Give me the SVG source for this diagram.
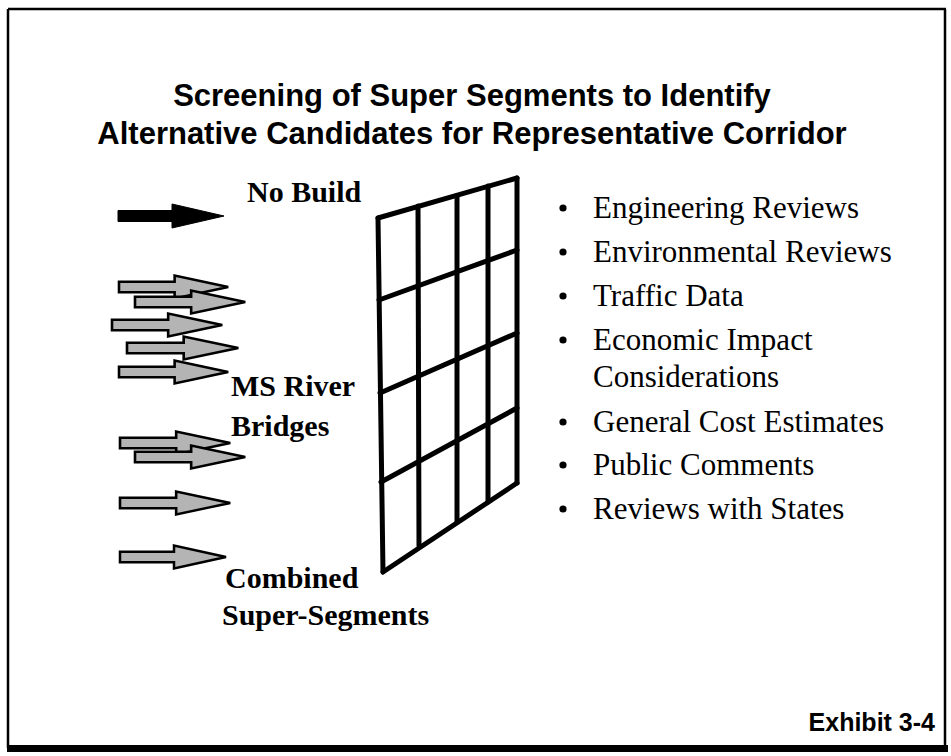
<svg xmlns="http://www.w3.org/2000/svg" width="951" height="756" viewBox="0 0 951 756">
  <style>
    .title { font-family: "Liberation Sans", Arial, sans-serif; font-weight: bold; font-size: 31px; fill: #000; }
    .label { font-family: "Liberation Serif", "Times New Roman", serif; font-weight: bold; font-size: 30px; fill: #000; }
    .item { font-family: "Liberation Serif", "Times New Roman", serif; font-size: 31px; fill: #000; }
    .exhibit { font-family: "Liberation Sans", Arial, sans-serif; font-weight: bold; font-size: 25px; fill: #000; }
    .grid line { stroke: #000; stroke-width: 5; stroke-linecap: round; }
    .arrow-gray { fill: #b4b4b4; stroke: #000; stroke-width: 2.5; stroke-linejoin: miter; }
    .arrow-black { fill: #000; stroke: #000; stroke-width: 1; }
  </style>
  <defs>
    <!-- block arrow, tail at x=0, centred on y=0, tip at x=106 -->
    <path id="blockArrow" d="M0,-5.5 H54 V-12 L106,0 L54,12 V5.5 H0 Z"/>
  </defs>

  <rect width="951" height="756" fill="#fff"/>

  <!-- frame -->
  <g id="frame" fill="none" stroke="#000">
    <line x1="8" y1="9" x2="946" y2="9" stroke-width="2.5"/>
    <line x1="8" y1="9" x2="8" y2="748" stroke-width="2.5"/>
    <line x1="945" y1="9" x2="945" y2="748" stroke-width="2.5"/>
    <rect x="7" y="745" width="941" height="7" fill="#000" stroke="none"/>
  </g>

  <!-- heading -->
  <g id="title">
    <text class="title" x="472" y="106" text-anchor="middle">Screening of Super Segments to Identify</text>
    <text class="title" x="472" y="144" text-anchor="middle">Alternative Candidates for Representative Corridor</text>
  </g>

  <!-- incoming alternatives -->
  <g id="arrows">
    <use href="#blockArrow" class="arrow-black" transform="translate(118,216)"/>
    <use href="#blockArrow" class="arrow-gray" transform="translate(119,287) scale(1.03,0.95)"/>
    <use href="#blockArrow" class="arrow-gray" transform="translate(135,302) scale(1.04,0.95)"/>
    <use href="#blockArrow" class="arrow-gray" transform="translate(112,325) scale(1.04,0.95)"/>
    <use href="#blockArrow" class="arrow-gray" transform="translate(127,348) scale(1.05,0.95)"/>
    <use href="#blockArrow" class="arrow-gray" transform="translate(119,372) scale(1.03,0.95)"/>
    <use href="#blockArrow" class="arrow-gray" transform="translate(120,443) scale(1.04,0.95)"/>
    <use href="#blockArrow" class="arrow-gray" transform="translate(135,457) scale(1.04,0.95)"/>
    <use href="#blockArrow" class="arrow-gray" transform="translate(120,503) scale(1.04,0.95)"/>
    <use href="#blockArrow" class="arrow-gray" transform="translate(120,557) scale(1.0,0.95)"/>
  </g>

  <!-- group labels -->
  <g id="labels">
    <text class="label" x="247" y="202">No Build</text>
    <text class="label" x="231" y="396">MS River</text>
    <text class="label" x="231" y="436">Bridges</text>
    <text class="label" x="225" y="588">Combined</text>
    <text class="label" x="222" y="625">Super-Segments</text>
  </g>

  <!-- screening grid in perspective -->
  <g id="screen" class="grid">
    <line x1="378" y1="218" x2="517" y2="178"/>
    <line x1="379" y1="300" x2="517" y2="250"/>
    <line x1="380" y1="393" x2="517" y2="333"/>
    <line x1="381" y1="482" x2="517" y2="408"/>
    <line x1="383" y1="572" x2="517" y2="483"/>
    <line x1="378" y1="218" x2="383" y2="572"/>
    <line x1="418" y1="206" x2="419" y2="546"/>
    <line x1="457" y1="197" x2="457" y2="522"/>
    <line x1="488" y1="186" x2="488" y2="502"/>
    <line x1="517" y1="178" x2="517" y2="483"/>
  </g>

  <!-- screening criteria -->
  <g id="criteria">
    <g fill="#000">
      <circle cx="563" cy="208" r="3.6"/>
      <circle cx="563" cy="252" r="3.6"/>
      <circle cx="563" cy="296" r="3.6"/>
      <circle cx="563" cy="340" r="3.6"/>
      <circle cx="563" cy="422" r="3.6"/>
      <circle cx="563" cy="465" r="3.6"/>
      <circle cx="563" cy="509" r="3.6"/>
    </g>
    <text class="item" x="593" y="218">Engineering Reviews</text>
    <text class="item" x="593" y="262">Environmental Reviews</text>
    <text class="item" x="593" y="306">Traffic Data</text>
    <text class="item" x="593" y="350">Economic Impact</text>
    <text class="item" x="593" y="387">Considerations</text>
    <text class="item" x="593" y="432">General Cost Estimates</text>
    <text class="item" x="593" y="475">Public Comments</text>
    <text class="item" x="593" y="519">Reviews with States</text>
  </g>

  <text class="exhibit" x="935" y="731" text-anchor="end">Exhibit 3-4</text>
</svg>
